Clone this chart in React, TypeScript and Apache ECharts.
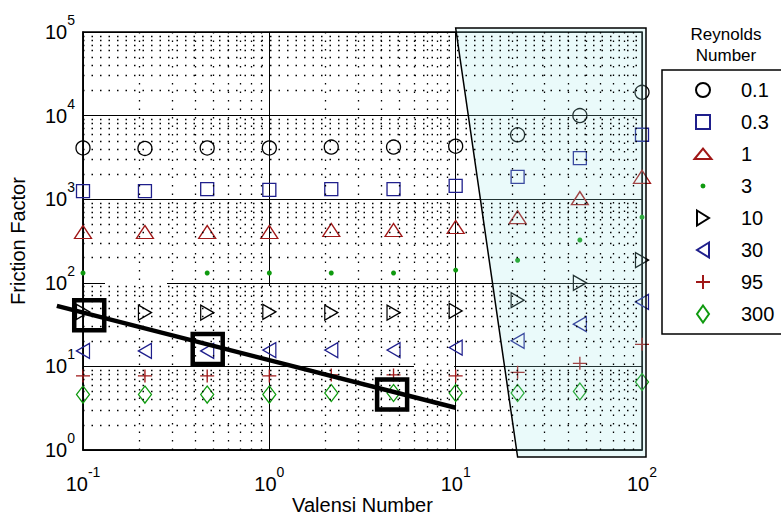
import React, { useEffect, useRef } from "react";
import * as echarts from "echarts";

// ---- data ----
const valensi = [0.1, 0.215, 0.464, 1, 2.15, 4.64, 10, 21.5, 46.4, 100];
const reynolds = ["0.1", "0.3", "1", "3", "10", "30", "95", "300"];
const fRe01 = [4100, 4050, 4100, 4100, 4200, 4200, 4300, 5900, 10000, 19000];
const fRe03 = [1250, 1250, 1320, 1290, 1320, 1320, 1440, 1850, 3100, 5900];
const fRe1 = [405, 405, 405, 405, 428, 428, 465, 610, 1030, 1850];
const fRe3 = [131, null, 131, 131, 131, 131, 142, 186, 325, 610];
const fRe10 = [45, 44, 44, 45, 44, 44, 46, 62, 100, 187];
const fRe30 = [15.3, 15.3, 15.3, 15.7, 15.7, 15.7, 16.8, 20.2, 32, 59];
const fRe95 = [7.7, 7.7, 7.7, 7.7, 7.9, 7.9, 7.7, 8.5, 10.9, 18.4];
const fRe300 = [4.6, 4.6, 4.6, 4.6, 4.8, 4.8, 4.8, 4.8, 5.0, 6.5];
const trendX = [0.0724, 10];
const trendY = [53, 3.2];
const boxX = [0.108, 0.467, 4.56];
const boxY = [41, 16.2, 4.61];
const xDecades = [0.1, 1, 10, 100];
const yDecades = [1, 10, 100, 1000, 10000, 100000];
const shadeTopX = 10;
const shadeBottomX = 21.5;
const shadeRightX = 100;

const FONT = "Liberation Sans";
const NAVY = "#1f1f8c";
const DRED = "#a01818";
const GREEN = "#0f9a0f";

function minorValues(decades: number[]) {
  const out: number[] = [];
  for (let i = 0; i < decades.length - 1; i++) {
    for (let m = 2; m <= 9; m++) out.push(m * decades[i]);
  }
  return out;
}

const B = "M0,0M18,18";
const markerDefs = [
  { name: reynolds[0], vals: fRe01, symbol: "circle", size: 14, color: "#000", rotate: 0, filled: false,
    icon: `path://${B}M2,9a7,7 0 1,0 14,0a7,7 0 1,0 -14,0Z` },
  { name: reynolds[1], vals: fRe03, symbol: "rect", size: 13, color: NAVY, rotate: 0, filled: false,
    icon: `path://${B}M2,2L16,2L16,16L2,16Z` },
  { name: reynolds[2], vals: fRe1, symbol: "triangle", size: [17, 13], color: DRED, rotate: 0, filled: false,
    icon: `path://${B}M0.5,14L9,3.5L17.5,14Z` },
  { name: reynolds[3], vals: fRe3, symbol: "circle", size: 5, color: GREEN, rotate: 0, filled: true,
    icon: `path://${B}M6.5,9a2.5,2.5 0 1,0 5,0a2.5,2.5 0 1,0 -5,0Z` },
  { name: reynolds[4], vals: fRe10, symbol: "triangle", size: [15, 13], color: "#000", rotate: -90, filled: false,
    icon: `path://${B}M3,1.5L15,9L3,16.5Z` },
  { name: reynolds[5], vals: fRe30, symbol: "triangle", size: [15, 13], color: NAVY, rotate: 90, filled: false,
    icon: `path://${B}M15,1.5L3,9L15,16.5Z` },
  { name: reynolds[6], vals: fRe95, symbol: "path://M0,6L12,6M6,0L6,12", size: [14, 13], color: DRED, rotate: 0, filled: false,
    icon: `path://${B}M2,9L16,9M9,2L9,16` },
  { name: reynolds[7], vals: fRe300, symbol: "diamond", size: [13, 17], color: GREEN, rotate: 0, filled: false,
    icon: `path://${B}M9,0.5L15,9L9,17.5L3,9Z` },
];

const supLabel = (v: number) => `{b|10}{s|${Math.round(Math.log10(v))}}`;
const labelRich = {
  b: { fontSize: 20, fontFamily: FONT, color: "#000", lineHeight: 38, verticalAlign: "middle" },
  s: { fontSize: 14, fontFamily: FONT, color: "#000", lineHeight: 14, padding: [0, 0, 24, 0], verticalAlign: "middle" },
};

export default function App() {
  const ref = useRef<HTMLDivElement>(null);
  useEffect(() => {
    if (!ref.current) return;
    const chart = echarts.init(ref.current, undefined, { renderer: "svg" });
    const minorX = minorValues(xDecades);
    const minorY = minorValues(yDecades);

    const scatterSeries = markerDefs.map((d) => ({
      name: d.name,
      type: "scatter",
      z: 3,
      symbol: d.symbol,
      symbolSize: d.size,
      symbolRotate: d.rotate,
      itemStyle: d.filled
        ? { color: d.color, borderWidth: 0, opacity: 1 }
        : { color: "rgba(0,0,0,0)", borderColor: d.color, borderWidth: 1.3, opacity: 1 },
      emphasis: { disabled: true },
      data: valensi
        .map((x, i) => [x, d.vals[i]])
        .filter((p) => p[1] !== null && p[1] !== undefined),
    }));

    const option: any = {
      animation: false,
      textStyle: { fontFamily: FONT },
      grid: {
        left: 83,
        right: 139,
        top: 32,
        bottom: 67,
        show: true,
        containLabel: false,
        outerBoundsMode: "none",
        borderColor: "#000",
        borderWidth: 1.5,
        backgroundColor: "transparent",
      },
      xAxis: {
        type: "log",
        logBase: 10,
        min: 0.1,
        max: 100,
        splitNumber: 3,
        name: "Valensi Number",
        nameLocation: "middle",
        nameGap: 45,
        nameMoveOverlap: false,
        nameTextStyle: { fontSize: 20, lineHeight: 20, color: "#000", fontFamily: FONT },
        axisLine: { show: true, lineStyle: { color: "#000", width: 1.5 } },
        axisTick: { show: false },
        axisLabel: { formatter: supLabel, rich: labelRich, margin: 15 },
        splitLine: { show: true, lineStyle: { color: "#000", width: 1 } },
      },
      yAxis: {
        type: "log",
        logBase: 10,
        min: 1,
        max: 100000,
        splitNumber: 5,
        name: "Friction Factor",
        nameLocation: "middle",
        nameGap: 55,
        nameMoveOverlap: false,
        nameTextStyle: { fontSize: 20, color: "#000", fontFamily: FONT },
        axisLine: { show: true, lineStyle: { color: "#000", width: 1.5 } },
        axisTick: { show: false },
        axisLabel: { formatter: supLabel, rich: labelRich, margin: 8 },
        splitLine: { show: true, lineStyle: { color: "#000", width: 1 } },
      },
      legend: {
        orient: "vertical",
        left: 662,
        top: 70,
        padding: [10, 60, 10, 31],
        itemWidth: 18,
        itemHeight: 18,
        itemGap: 12,
        borderColor: "#000",
        borderWidth: 1.5,
        backgroundColor: "#fff",
        selectedMode: false,
        textStyle: { fontSize: 20, color: "#000", fontFamily: FONT, padding: [0, 0, 0, 24], lineHeight: 20 },
        data: markerDefs.map((d) => ({ name: d.name, icon: d.icon })),
      },
      graphic: [
        {
          type: "text",
          z: 10,
          style: {
            text: "Reynolds\nNumber",
            x: 726,
            y: 24,
            align: "center",
            verticalAlign: "top",
            font: `17px "${FONT}"`,
            lineHeight: 21,
            fill: "#000",
          },
        },
        { type: "rect", z: 1.5, shape: { x: 105, y: 264, width: 62, height: 34 }, style: { fill: "#fff" } },
        { type: "rect", z: 1.5, shape: { x: 233, y: 286, width: 57, height: 57 }, style: { fill: "#fff" } },
        { type: "rect", z: 1.5, shape: { x: 414, y: 364, width: 40, height: 6 }, style: { fill: "#fff" } },
      ],
      series: [
        {
          name: "minorGrid",
          type: "line",
          z: 1,
          data: [],
          silent: true,
          markLine: {
            silent: true,
            symbol: ["none", "none"],
            label: { show: false },
            lineStyle: { color: "#000", width: 1.3, type: [1.5, 7] },
            data: [
              ...minorX.map((v) => ({ xAxis: v })),
              ...minorY.map((v) => ({ yAxis: v })),
            ],
          },
        },
        ...scatterSeries,
        {
          name: "shade",
          type: "custom",
          z: 4,
          silent: true,
          clip: false,
          data: [[shadeTopX, 100000]],
          renderItem: (params: any, api: any) => {
            const tl = api.coord([shadeTopX, 100000]);
            const bl = api.coord([shadeBottomX, 1]);
            const br = api.coord([shadeRightX, 1]);
            return {
              type: "polygon",
              shape: {
                points: [
                  [tl[0], tl[1] - 4],
                  [br[0] + 4, tl[1] - 4],
                  [br[0] + 4, br[1] + 7],
                  [bl[0], br[1] + 7],
                ],
              },
              style: { fill: "rgba(160,232,232,0.22)", stroke: "#000", lineWidth: 1.5 },
            };
          },
        },
        {
          name: "trend",
          type: "custom",
          z: 5,
          silent: true,
          clip: false,
          data: [[trendX[0], trendY[0]]],
          renderItem: (params: any, api: any) => {
            // calibrate one decade in each direction with the axis scales, so points outside the range can be drawn
            const a = api.coord([0.1, 1]);
            const b = api.coord([1, 10]);
            const dx = b[0] - a[0];
            const dy = b[1] - a[1];
            const pts = trendX.map((x, i) => [
              a[0] + (Math.log10(x) + 1) * dx,
              a[1] + Math.log10(trendY[i]) * dy,
            ]);
            return {
              type: "polyline",
              shape: { points: pts },
              style: { stroke: "#000", lineWidth: 4.5, fill: "none" },
            };
          },
        },
        {
          name: "boxes",
          type: "scatter",
          z: 6,
          symbol: "rect",
          symbolSize: 30,
          silent: true,
          itemStyle: { color: "rgba(0,0,0,0)", borderColor: "#000", borderWidth: 4.5, opacity: 1 },
          data: boxX.map((x, i) => [x, boxY[i]]),
        },
      ],
    };
    chart.setOption(option);
    return () => chart.dispose();
  }, []);
  return (
    <div
      ref={ref}
      style={{ position: "fixed", left: 0, top: 0, width: 781, height: 517, background: "#fff" }}
    />
  );
}
